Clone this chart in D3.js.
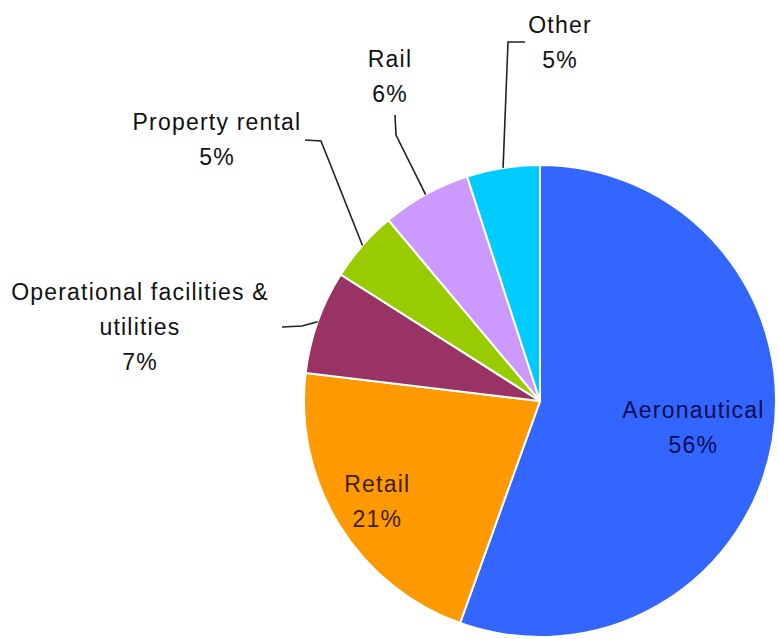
<!DOCTYPE html>
<html>
<head>
<meta charset="utf-8">
<script src="https://cdn.jsdelivr.net/npm/d3@7"></script>
<style>
  body { margin: 0; background: #fff; }
  text { font-family: "Liberation Sans", Arial, sans-serif; font-size: 23px; letter-spacing: 1.2px; }
</style>
</head>
<body>
<script>
var categories = ["Aeronautical", "Retail", "Operational facilities & utilities", "Property rental", "Rail", "Other"];
var shares = [55.5, 21.4, 7.1, 4.9, 6.1, 5.0];
var colors = ["#3366ff", "#ff9900", "#993366", "#99cc00", "#cc99ff", "#00ccff"];

// label layout: inside labels sit on a radius fraction, outside ones get a spot + leader elbow
var labelLines = [["Aeronautical"], ["Retail"], ["Operational facilities &", "utilities"], ["Property rental"], ["Rail"], ["Other"]];
var labelSpots = [
  {inside: 0.66, fill: "#0c0c55"},
  {inside: 0.81, fill: "#3d1e00"},
  {x: 140, y: 300, elbow: [[282, 327], [302, 326]]},
  {x: 217, y: 130, elbow: [[305, 140], [321, 141]]},
  {x: 390, y: 67, elbow: [[395, 115], [396, 135]]},
  {x: 560, y: 33, elbow: [[525, 42], [508, 42]]}
];

var width = 779, height = 639;
var cx = 540, cy = 401, radius = 236, lineStep = 35;

var svg = d3.select("body").append("svg")
  .attr("width", width)
  .attr("height", height);

var g = svg.append("g").attr("transform", "translate(" + cx + "," + cy + ")");

var pie = d3.pie().sort(null).value(function(d) { return d; });
var arcs = pie(shares);

var arc = d3.arc().innerRadius(0).outerRadius(radius);
var edgeArc = d3.arc().innerRadius(radius).outerRadius(radius);

g.selectAll("path.slice")
  .data(arcs)
  .enter().append("path")
  .attr("class", "slice")
  .attr("d", arc)
  .style("fill", function(d, i) { return colors[i]; })
  .style("stroke", "#fff")
  .style("stroke-width", 2);

arcs.forEach(function(d, i) {
  var spot = labelSpots[i];
  var lines = labelLines[i].concat([Math.round(shares[i]) + "%"]);
  var x, y, fill = spot.fill || "#111";

  if (spot.inside) {
    var r = radius * spot.inside;
    var c = d3.arc().innerRadius(r).outerRadius(r).centroid(d);
    x = cx + c[0];
    y = cy + c[1] - (lines.length - 1) * lineStep / 2 + 8;
  } else {
    x = spot.x;
    y = spot.y;
    var tip = edgeArc.centroid(d);
    var pts = spot.elbow.concat([[cx + tip[0], cy + tip[1]]]);
    svg.append("path")
      .attr("d", d3.line()(pts))
      .style("fill", "none")
      .style("stroke", "#222")
      .style("stroke-width", 1.6);
  }

  var t = svg.append("text")
    .attr("text-anchor", "middle")
    .style("fill", fill);
  lines.forEach(function(s, k) {
    t.append("tspan")
      .attr("x", x)
      .attr("y", y + k * lineStep)
      .text(s);
  });
});
</script>
</body>
</html>
